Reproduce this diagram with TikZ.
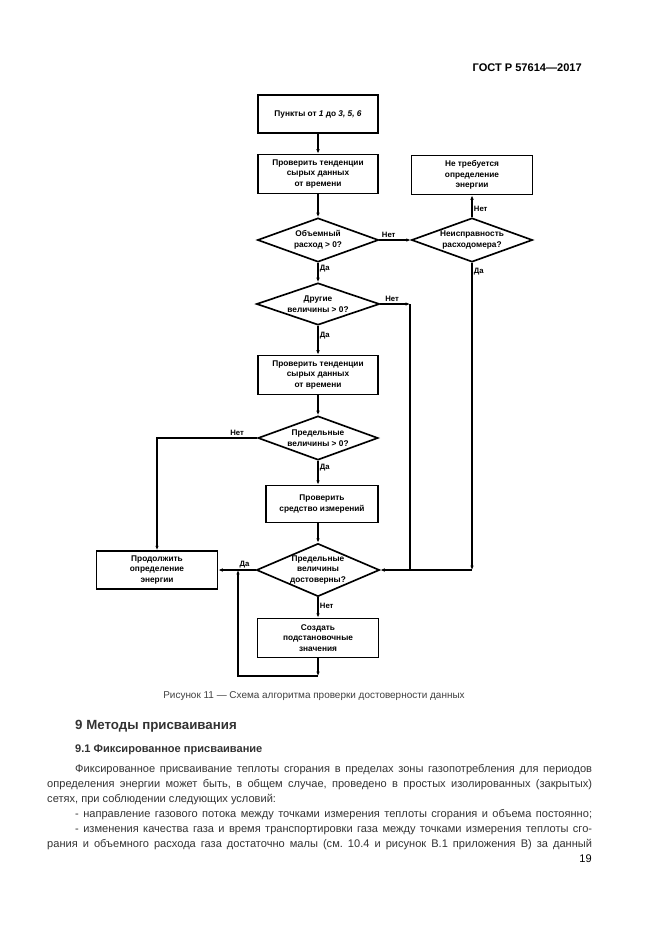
\documentclass[tikz,border=0pt]{standalone}
\usepackage{fontspec}
\setmainfont{Liberation Sans}
\usetikzlibrary{shapes.geometric,arrows.meta}
\frenchspacing
\newcommand{\unitpx}{0.3177mm}
\tikzset{
  box/.style={draw, line width=1.5pt, minimum width=120*\unitpx, minimum height=39*\unitpx,
    align=center, inner sep=1pt, font=\fontsize{7.5}{9.6}\selectfont\bfseries},
  choice/.style={draw, diamond, line width=1.5pt, inner sep=0pt,
    minimum width=121*\unitpx, minimum height=44*\unitpx},
  ctext/.style={align=center, font=\fontsize{7.5}{9.6}\selectfont\bfseries},
  flowline/.style={line width=1.5pt},
  arr/.style={flowline, -{Latex[length=4pt,width=3.2pt]}},
  yesno/.style={font=\fontsize{7}{8}\selectfont\bfseries, inner sep=1pt},
  bodytext/.style={anchor=base west, inner sep=0pt, font=\fontsize{10}{12}\selectfont, text=black!80}
}
\begin{document}
\begin{tikzpicture}[x=0.3177mm, y=-0.3177mm]
	\fill[white] (0,0) rectangle (661,935);
	\node[anchor=base east, inner sep=0pt, font=\fontsize{10}{12}\selectfont\bfseries] (head) at (582,72) {ГОСТ Р 57614—2017};

	% main column
	\node[box, minimum height=38*\unitpx] (start) at (318,114) {Пункты от \textit{1} до \textit{3, 5, 6}};
	\node[box] (trend1) at (318,174) {Проверить тенденции\\сырых данных\\от времени};
	\node[box, minimum width=121*\unitpx] (noneed) at (472,175) {Не требуется\\определение\\энергии};
	\node[choice, label={[ctext]center:{Объемный\\расход > 0?}}] (flow) at (318,240) {};
	\node[choice, label={[ctext]center:{Неисправность\\расходомера?}}] (fault) at (472,240) {};
	\node[choice, minimum width=123*\unitpx, minimum height=42*\unitpx, label={[ctext]center:{Другие\\величины > 0?}}] (other) at (318,304) {};
	\node[box] (trend2) at (318,375) {Проверить тенденции\\сырых данных\\от времени};
	\node[choice, minimum width=120*\unitpx, label={[ctext]center:{Предельные\\величины > 0?}}] (limit) at (318,438) {};
	\node[box, minimum width=112*\unitpx, minimum height=37*\unitpx] (check) at (322,504) {Проверить\\средство измерений};
	\node[choice, minimum width=123*\unitpx, minimum height=53*\unitpx, label={[ctext]center:{Предельные\\величины\\достоверны?}}] (valid) at (318,570) {};
	\node[box, minimum width=121*\unitpx, minimum height=38*\unitpx] (cont) at (157,570) {Продолжить\\определение\\энергии};
	\node[box, minimum width=121*\unitpx] (subst) at (318,638) {Создать\\подстановочные\\значения};

	% connectors
	\draw[arr] (start) -- (trend1);
	\draw[arr] (trend1) -- (flow);
	\draw[arr] (flow.east) -- (fault.west) node[yesno, pos=0.3, above] {Нет};
	\draw[arr] (fault.north) -- (noneed.south) node[yesno, pos=0.4, right] {Нет};
	\draw[arr] (flow.south) -- (other.north) node[yesno, pos=0.3, right] {Да};
	\coordinate (j2) at (fault.south |- valid.east);
	\draw[arr] (fault.south) -- (j2) node[yesno, pos=0.03, right] {Да};
	\draw[arr] (j2) -- (valid.east);
	\coordinate (j1) at (410,304);
	\draw[arr] (other.east) -- (j1) node[yesno, pos=0.4, above] {Нет};
	\draw[flowline] (j1) -- (j1 |- valid.east);
	\draw[arr] (other.south) -- (trend2.north) node[yesno, pos=0.35, right] {Да};
	\draw[arr] (trend2) -- (limit);
	\draw[arr] (limit.west) -| (cont.north) node[yesno, pos=0.1, above] {Нет};
	\draw[arr] (limit.south) -- (check.north -| limit.south) node[yesno, pos=0.3, right] {Да};
	\draw[arr] (check.south -| valid.north) -- (valid.north);
	\draw[arr] (valid.west) -- (cont.east) node[yesno, pos=0.3, above] {Да};
	\draw[arr] (valid.south) -- (subst.north) node[yesno, pos=0.4, right] {Нет};
	\coordinate (lp) at (318,676);
	\coordinate (lq) at (238,676);
	\draw[arr] (subst.south) -- (lp);
	\draw[arr] (lp) -- (lq) -- (lq |- valid.west);

	% caption and text
	\node[anchor=base, inner sep=0pt, font=\fontsize{9}{11}\selectfont, text=black!75] (cap) at (314,698) {Рисунок 11 — Схема алгоритма проверки достоверности данных};
	\node[bodytext, font=\fontsize{12}{14}\selectfont\bfseries] (sec) at (75,729) {9 Методы присваивания};
	\node[bodytext, font=\fontsize{10}{12}\selectfont\bfseries] (subsec) at (75,752) {9.1 Фиксированное присваивание};
	\node[bodytext] (l1) at (75,772) {\makebox[164.2mm][s]{Фиксированное присваивание теплоты сгорания в пределах зоны газопотребления для периодов}};
	\node[bodytext] (l2) at (47,787) {\makebox[173.1mm][s]{определения энергии может быть, в общем случае, проведено в простых изолированных (закрытых)}};
	\node[bodytext] (l3) at (47,802) {сетях, при соблюдении следующих условий:};
	\node[bodytext] (l4) at (75,817) {\makebox[164.2mm][s]{- направление газового потока между точками измерения теплоты сгорания и объема постоянно;}};
	\node[bodytext] (l5) at (75,832) {\makebox[164.2mm][s]{- изменения качества газа и время транспортировки газа между точками измерения теплоты сго-}};
	\node[bodytext] (l6) at (47,847) {\makebox[173.1mm][s]{рания и объемного расхода газа достаточно малы (см. 10.4 и рисунок В.1 приложения В) за данный}};
	\node[anchor=base east, inner sep=0pt, font=\fontsize{10}{12}\selectfont] (pg) at (592,862) {19};
\end{tikzpicture}
\end{document}
